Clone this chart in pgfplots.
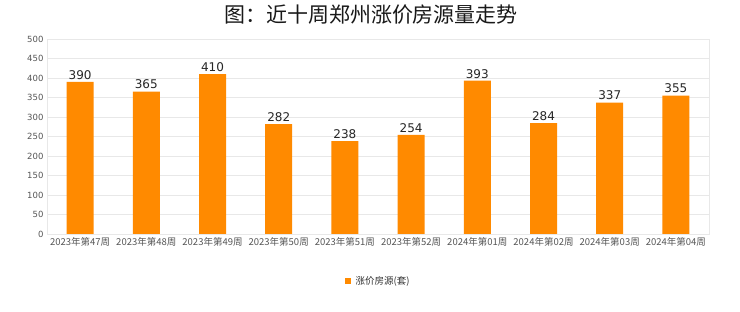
\documentclass[border=0pt]{standalone}
\usepackage{pgfplots}
\pgfplotsset{compat=1.18}
\usepackage{fontspec}
\setmainfont{DejaVu Sans}
\newfontfamily\cjk{Noto Sans CJK SC}
\newfontfamily\cjkmed{Noto Sans CJK SC Medium}
\definecolor{barorange}{HTML}{FF8A00}
\definecolor{gridgray}{HTML}{E8E8E8}
\definecolor{ticktext}{HTML}{555555}
\begin{document}
\begin{tikzpicture}
\path[fill=white] (0pt,0pt) rectangle (740pt,312pt);
\node[font=\cjk\fontsize{21}{23}\selectfont, text=black!90] at (371pt,297pt) {图：近十周郑州涨价房源量走势};
\begin{axis}[
  at={(47pt,78pt)}, anchor=south west,
  width=662pt, height=195pt, scale only axis,
  xmin=-0.5, xmax=9.5, ymin=0, ymax=500,
  ytick={0,50,...,500},
  xtick={0,...,9},
  xticklabels={2023年第47周,2023年第48周,2023年第49周,2023年第50周,2023年第51周,2023年第52周,2024年第01周,2024年第02周,2024年第03周,2024年第04周},
  x tick label style={font=\cjk\fontsize{9.5}{11}\selectfont, text=ticktext, yshift=0pt},
  y tick label style={font=\fontsize{8.5}{10}\selectfont, text=ticktext},
  /pgf/number format/assume math mode=true,
  ymajorgrids, grid style={gridgray, line width=0.6pt},
  axis line style={gridgray, line width=0.8pt},
  major tick length=0pt,
  bar width=27pt,
  nodes near coords,
  nodes near coords style={font=\fontsize{12}{14}\selectfont, text=black!85, yshift=-1pt},
  point meta=y,
  legend style={at={(0.5,-0.195)}, anchor=north, draw=none, font=\cjk\fontsize{9.5}{11}\selectfont, text=black!80},
  legend image code/.code={\fill[barorange] (0pt,-3pt) rectangle (6pt,3pt);},
  legend cell align=left,
]
\addplot[ybar, fill=barorange, draw=none] coordinates {(0,390) (1,365) (2,410) (3,282) (4,238) (5,254) (6,393) (7,284) (8,337) (9,355)};
\addlegendentry{\hspace{3pt}涨价房源(套)}
\end{axis}
\end{tikzpicture}
\end{document}
